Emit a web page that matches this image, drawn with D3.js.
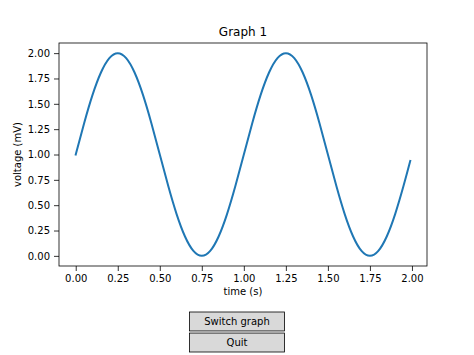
<!DOCTYPE html>
<html>
<head>
<meta charset="utf-8">
<script src="https://cdn.jsdelivr.net/npm/d3@7"></script>
<style>
html,body{margin:0;padding:0;background:#fff;}
svg{display:block;font-family:"DejaVu Sans",sans-serif;}
</style>
</head>
<body>
<svg id="chart" width="474" height="355"></svg>
<script>
const timeS = [0.00,0.05,0.10,0.15,0.20,0.25,0.30,0.35,0.40,0.45,0.50,0.55,0.60,0.65,0.70,0.75,0.80,0.85,0.90,0.95,
               1.00,1.05,1.10,1.15,1.20,1.25,1.30,1.35,1.40,1.45,1.50,1.55,1.60,1.65,1.70,1.75,1.80,1.85,1.90,1.95,1.99];
const voltage = [1.000,1.309,1.588,1.809,1.951,2.000,1.951,1.809,1.588,1.309,1.000,0.691,0.412,0.191,0.049,0.000,0.049,0.191,0.412,0.691,
                 1.000,1.309,1.588,1.809,1.951,2.000,1.951,1.809,1.588,1.309,1.000,0.691,0.412,0.191,0.049,0.000,0.049,0.191,0.412,0.691,0.937];
const xTicks = [0.00,0.25,0.50,0.75,1.00,1.25,1.50,1.75,2.00];
const yTicks = [0.00,0.25,0.50,0.75,1.00,1.25,1.50,1.75,2.00];
const buttons = ["Switch graph","Quit"];

const svg = d3.select("#chart");
const L = 59, R = 427, T = 43, B = 266;
const x = d3.scaleLinear().domain([-0.0995, 2.0895]).range([L, R]);
const y = d3.scaleLinear().domain([-0.1, 2.1]).range([B, T]);

const xAxis = svg.append("g").attr("transform", `translate(0,${B})`)
  .call(d3.axisBottom(x).tickValues(xTicks).tickFormat(d3.format(".2f")).tickSize(5).tickPadding(4));
const yAxis = svg.append("g").attr("transform", `translate(${L},0)`)
  .call(d3.axisLeft(y).tickValues(yTicks).tickFormat(d3.format(".2f")).tickSize(5).tickPadding(4));
[xAxis, yAxis].forEach(g => {
  g.select(".domain").remove();
  g.selectAll("text").attr("font-family", "DejaVu Sans").attr("font-size", 10).attr("fill", "#000");
  g.selectAll("line").attr("stroke", "#000").attr("stroke-width", 0.8);
});

svg.append("path")
  .datum(timeS.map((t, i) => [t, voltage[i]]))
  .attr("fill", "none").attr("stroke", "#1f77b4").attr("stroke-width", 2)
  .attr("stroke-linecap", "square")
  .attr("d", d3.line().x(d => x(d[0])).y(d => y(d[1])).curve(d3.curveNatural));

svg.append("rect").attr("x", L).attr("y", T).attr("width", R - L).attr("height", B - T)
  .attr("fill", "none").attr("stroke", "#000").attr("stroke-width", 0.8);

svg.append("text").attr("x", (L + R) / 2).attr("y", 36).attr("text-anchor", "middle")
  .attr("font-size", 12).text("Graph 1");
svg.append("text").attr("x", (L + R) / 2).attr("y", 295).attr("text-anchor", "middle")
  .attr("font-size", 10).text("time (s)");
svg.append("text").attr("transform", `translate(21,${(T + B) / 2}) rotate(-90)`).attr("text-anchor", "middle")
  .attr("font-size", 10).text("voltage (mV)");

const by = d3.scaleBand().domain(buttons).range([312, 352]).paddingInner(0.1);
const bg = svg.selectAll("g.btn").data(buttons).join("g").attr("class", "btn");
bg.append("rect").attr("x", 189.5).attr("y", d => by(d)).attr("width", 95).attr("height", by.bandwidth())
  .attr("fill", "#d9d9d9").attr("stroke", "#000").attr("stroke-width", 0.8);
bg.append("text").attr("x", 237).attr("y", d => by(d) + by.bandwidth() / 2 + 3.8)
  .attr("text-anchor", "middle").attr("font-size", 10).text(d => d);
</script>
</body>
</html>
